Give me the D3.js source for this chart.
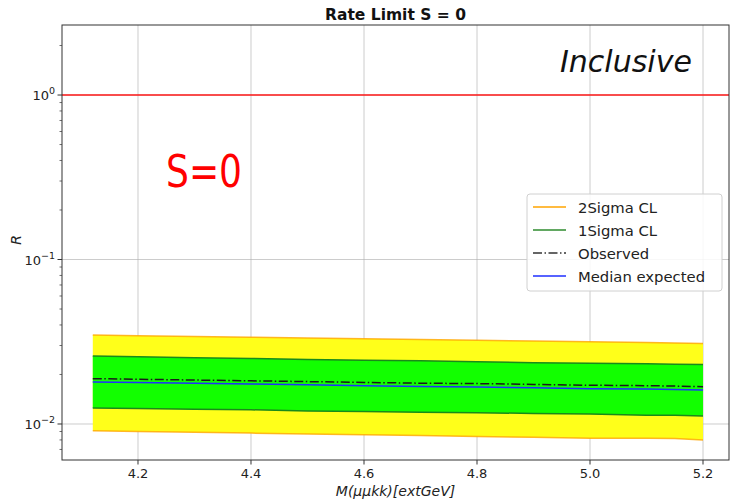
<!DOCTYPE html>
<html>
<head>
<meta charset="utf-8">
<script src="https://cdn.jsdelivr.net/npm/d3@7"></script>
<style>
  body { margin: 0; background: #fff; }
  svg { display: block; }
  text { font-family: "DejaVu Sans", sans-serif; }
</style>
</head>
<body>
<svg id="chart" width="731" height="504"></svg>
<script>
// Mass points and limit curves
const mass = [4.12, 4.2, 4.3, 4.4, 4.5, 4.6, 4.7, 4.8, 4.9, 5.0, 5.1, 5.15, 5.2];
const twoSigmaUp   = [0.0347, 0.0344, 0.0340, 0.0337, 0.0333, 0.0330, 0.0326, 0.0323, 0.0319, 0.0316, 0.0313, 0.0311, 0.0309];
const oneSigmaUp   = [0.0259, 0.0256, 0.0253, 0.0250, 0.0247, 0.0244, 0.0242, 0.0239, 0.0236, 0.0234, 0.0232, 0.0231, 0.0230];
const observed     = [0.01886, 0.0187, 0.0185, 0.0183, 0.0181, 0.0179, 0.0177, 0.0176, 0.0174, 0.0172, 0.0171, 0.0170, 0.01686];
const median       = [0.0180, 0.0179, 0.0177, 0.0175, 0.0173, 0.0171, 0.0169, 0.0168, 0.0166, 0.0164, 0.0163, 0.0162, 0.0161];
const oneSigmaDown = [0.0125, 0.0124, 0.0123, 0.0122, 0.0120, 0.0119, 0.0118, 0.0117, 0.0116, 0.0115, 0.0113, 0.0113, 0.0112];
const twoSigmaDown = [0.0091, 0.0090, 0.0089, 0.0088, 0.0087, 0.0086, 0.0085, 0.0084, 0.0083, 0.0082, 0.00818, 0.00815, 0.0080];
const referenceR = 1;

const xTicks = [4.2, 4.4, 4.6, 4.8, 5.0, 5.2];
const yTicks = [1e-2, 1e-1, 1];
const yTickLabels = ["−2", "−1", "0"];
const legendLabels = ["2Sigma CL", "1Sigma CL", "Observed", "Median expected"];

const svg = d3.select("#chart");
const margin = { left: 62, top: 25, right: 2, bottom: 44 };
const W = 731, H = 504;
const iw = W - margin.left - margin.right;
const ih = H - margin.top - margin.bottom;

const x = d3.scaleLinear().domain([4.0655, 5.246]).range([0, iw]);
const y = d3.scaleLog().domain([0.00604, 2.665]).range([ih, 0]);

const g = svg.append("g").attr("transform", `translate(${margin.left},${margin.top})`);

// grid
g.append("g").selectAll("line").data(xTicks).join("line")
  .attr("x1", d => x(d)).attr("x2", d => x(d)).attr("y1", 0).attr("y2", ih)
  .attr("stroke", "#b0b0b0").attr("stroke-width", 0.8).attr("opacity", 0.8);
g.append("g").selectAll("line").data(yTicks).join("line")
  .attr("y1", d => y(d)).attr("y2", d => y(d)).attr("x1", 0).attr("x2", iw)
  .attr("stroke", "#b0b0b0").attr("stroke-width", 0.8).attr("opacity", 0.8);

const idx = d3.range(mass.length);
const area = (lo, hi) => d3.area().x(i => x(mass[i])).y0(i => y(lo[i])).y1(i => y(hi[i]));
const line = (arr) => d3.line().x(i => x(mass[i])).y(i => y(arr[i]));

// 2 sigma band
g.append("path").datum(idx).attr("d", area(twoSigmaDown, twoSigmaUp)).attr("fill", "#ffff1a");
[twoSigmaUp, twoSigmaDown].forEach(a =>
  g.append("path").datum(idx).attr("d", line(a)).attr("fill", "none")
    .attr("stroke", "#ffa500").attr("stroke-width", 1.5).attr("opacity", 0.8));
// 1 sigma band
g.append("path").datum(idx).attr("d", area(oneSigmaDown, oneSigmaUp)).attr("fill", "#12ff00");
[oneSigmaUp, oneSigmaDown].forEach(a =>
  g.append("path").datum(idx).attr("d", line(a)).attr("fill", "none")
    .attr("stroke", "#1a8a1a").attr("stroke-width", 1.5));
// observed and median
g.append("path").datum(idx).attr("d", line(observed)).attr("fill", "none")
  .attr("stroke", "#1a1a1a").attr("stroke-width", 1.5).attr("stroke-dasharray", "9,2.5,1.5,2.5");
g.append("path").datum(idx).attr("d", line(median)).attr("fill", "none")
  .attr("stroke", "#1f2fff").attr("stroke-width", 1.5);

// reference line R = 1
g.append("line").attr("x1", 0).attr("x2", iw).attr("y1", y(referenceR)).attr("y2", y(referenceR))
  .attr("stroke", "#ff1a1a").attr("stroke-width", 1.4);

// spines
g.append("rect").attr("x", 0).attr("y", 0).attr("width", iw).attr("height", ih)
  .attr("fill", "none").attr("stroke", "#333").attr("stroke-width", 1);

// x axis
const xa = g.append("g").attr("transform", `translate(0,${ih})`);
xTicks.forEach(t => {
  xa.append("line").attr("x1", x(t)).attr("x2", x(t)).attr("y1", 0).attr("y2", 4.5).attr("stroke", "#333");
  xa.append("text").attr("x", x(t)).attr("y", 18).attr("text-anchor", "middle")
    .attr("font-size", 13).attr("fill", "#222").text(t.toFixed(1));
});
g.append("text").attr("x", iw / 2).attr("y", ih + 36).attr("text-anchor", "middle")
  .attr("font-size", 14).attr("font-style", "italic").attr("fill", "#222").text("M(μμkk)[extGeV]");

// y axis
const ya = g.append("g");
yTicks.forEach((t, i) => {
  ya.append("line").attr("x1", -4.5).attr("x2", 0).attr("y1", y(t)).attr("y2", y(t)).attr("stroke", "#333");
  const tx = ya.append("text").attr("x", -7).attr("y", y(t) + 5).attr("text-anchor", "end")
    .attr("font-size", 13).attr("fill", "#222");
  tx.append("tspan").text("10");
  tx.append("tspan").attr("dy", -6).attr("font-size", 9.5).text(yTickLabels[i]);
});
const minor = [];
[-3, -2, -1, 0].forEach(e => d3.range(2, 10).forEach(m => {
  const v = m * Math.pow(10, e);
  if (v > y.domain()[0] && v < y.domain()[1]) minor.push(v);
}));
ya.selectAll("line.minor").data(minor).join("line").attr("class", "minor")
  .attr("x1", -2.5).attr("x2", 0).attr("y1", d => y(d)).attr("y2", d => y(d)).attr("stroke", "#333").attr("stroke-width", 0.7);
svg.append("text").attr("transform", `translate(21,${margin.top + 215}) rotate(-90)`)
  .attr("text-anchor", "middle").attr("font-size", 14).attr("font-style", "italic").attr("fill", "#222").text("R");

// title
svg.append("text").attr("x", margin.left + iw / 2).attr("y", 20).attr("text-anchor", "middle")
  .attr("font-size", 15.5).attr("font-weight", "bold").attr("fill", "#111").text("Rate Limit S = 0");

// annotations
svg.append("text").attr("x", 560).attr("y", 72).attr("font-family", "Lato, 'Open Sans', sans-serif")
  .attr("font-style", "italic").attr("font-size", 30).attr("fill", "#111").text("Inclusive");
svg.append("text").attr("transform", "translate(166,187) scale(0.82,1)")
  .attr("font-family", "Lato, 'Open Sans', sans-serif")
  .attr("font-size", 44).attr("fill", "#ff0000").text("S=0");

// legend
const lg = svg.append("g").attr("transform", "translate(527,194)");
lg.append("rect").attr("width", 195).attr("height", 97).attr("rx", 3)
  .attr("fill", "#fff").attr("fill-opacity", 0.85).attr("stroke", "#d0d0d0");
const legendStyles = [
  { stroke: "#ffa500", dash: null },
  { stroke: "#2e8b2e", dash: null },
  { stroke: "#333", dash: "9,2.5,1.5,2.5" },
  { stroke: "#1f2fff", dash: null }
];
legendLabels.forEach((lab, i) => {
  const yy = 13 + i * 23;
  lg.append("line").attr("x1", 6).attr("x2", 39).attr("y1", yy).attr("y2", yy)
    .attr("stroke", legendStyles[i].stroke).attr("stroke-width", 1.5)
    .attr("stroke-dasharray", legendStyles[i].dash);
  lg.append("text").attr("x", 51).attr("y", yy + 5.5).attr("font-size", 14.8).attr("fill", "#222").text(lab);
});
</script>
</body>
</html>
